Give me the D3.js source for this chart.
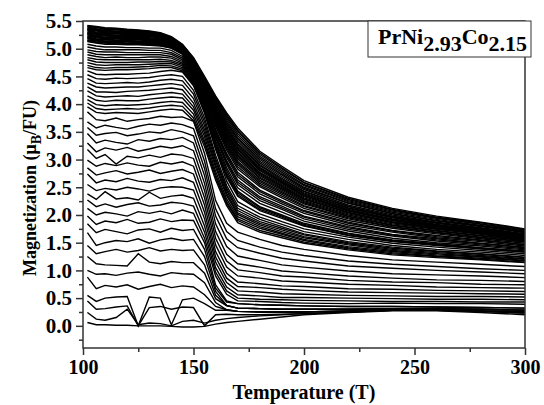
<!DOCTYPE html>
<html><head><meta charset="utf-8">
<script src="https://cdn.jsdelivr.net/npm/d3@7"></script>
<style>
body{margin:0;background:#fff}
svg{display:block}
text{font-family:"Liberation Serif","Times New Roman",serif;font-weight:bold;fill:#000}
</style>
</head><body>
<svg id="chart" width="544" height="405"></svg>
<script>
// Temperature grid (K)
const temperatures = [102,106,110,115,120,125,130,135,140,145,150,155,160,165,170,180,190,200,220,240,260,280,300];

// Magnetization curves (muB/FU), one per applied field, highest field first
const magnetization = [
[5.42,5.40,5.38,5.37,5.35,5.34,5.32,5.29,5.22,5.08,4.84,4.50,4.15,3.84,3.57,3.15,2.88,2.62,2.32,2.12,1.98,1.87,1.75],
[5.41,5.39,5.37,5.36,5.34,5.33,5.31,5.28,5.21,5.07,4.83,4.48,4.12,3.81,3.53,3.12,2.85,2.59,2.30,2.10,1.96,1.86,1.74],
[5.40,5.38,5.36,5.35,5.33,5.32,5.30,5.27,5.20,5.07,4.82,4.47,4.10,3.78,3.51,3.09,2.83,2.58,2.28,2.09,1.95,1.84,1.73],
[5.39,5.36,5.35,5.34,5.32,5.31,5.29,5.26,5.19,5.06,4.80,4.45,4.07,3.75,3.47,3.06,2.80,2.55,2.26,2.07,1.94,1.83,1.71],
[5.37,5.35,5.33,5.32,5.31,5.30,5.28,5.25,5.19,5.05,4.79,4.43,4.05,3.71,3.43,3.03,2.77,2.53,2.24,2.05,1.92,1.81,1.70],
[5.36,5.34,5.32,5.31,5.29,5.29,5.27,5.24,5.18,5.04,4.77,4.41,4.02,3.68,3.39,3.00,2.74,2.50,2.22,2.03,1.90,1.80,1.69],
[5.35,5.33,5.31,5.30,5.28,5.28,5.26,5.23,5.17,5.04,4.76,4.40,4.00,3.65,3.37,2.97,2.72,2.48,2.21,2.02,1.89,1.79,1.68],
[5.34,5.32,5.30,5.29,5.27,5.26,5.25,5.22,5.16,5.03,4.75,4.38,3.97,3.62,3.33,2.94,2.69,2.46,2.18,2.00,1.87,1.77,1.66],
[5.33,5.30,5.29,5.28,5.26,5.25,5.24,5.21,5.15,5.02,4.73,4.36,3.94,3.59,3.29,2.91,2.66,2.43,2.16,1.98,1.86,1.76,1.65],
[5.32,5.29,5.27,5.27,5.25,5.24,5.23,5.20,5.14,5.01,4.72,4.35,3.92,3.57,3.27,2.89,2.64,2.42,2.15,1.97,1.85,1.75,1.64],
[5.30,5.28,5.26,5.25,5.24,5.23,5.22,5.19,5.13,5.01,4.72,4.33,3.90,3.54,3.24,2.86,2.62,2.40,2.13,1.96,1.83,1.74,1.63],
[5.29,5.27,5.25,5.24,5.23,5.22,5.20,5.18,5.13,5.00,4.71,4.32,3.88,3.52,3.22,2.84,2.60,2.38,2.12,1.95,1.82,1.73,1.62],
[5.28,5.26,5.24,5.23,5.22,5.21,5.19,5.17,5.12,4.99,4.70,4.31,3.87,3.49,3.19,2.82,2.59,2.36,2.10,1.93,1.81,1.72,1.62],
[5.27,5.24,5.23,5.22,5.20,5.20,5.18,5.16,5.11,4.98,4.69,4.30,3.85,3.47,3.17,2.80,2.57,2.35,2.09,1.92,1.80,1.71,1.61],
[5.26,5.23,5.21,5.21,5.19,5.19,5.17,5.15,5.10,4.98,4.68,4.28,3.83,3.45,3.14,2.77,2.55,2.33,2.08,1.91,1.79,1.70,1.60],
[5.25,5.22,5.20,5.20,5.18,5.18,5.16,5.15,5.09,4.97,4.67,4.27,3.81,3.43,3.12,2.75,2.53,2.31,2.07,1.90,1.78,1.69,1.59],
[5.23,5.21,5.19,5.19,5.17,5.17,5.15,5.14,5.08,4.96,4.66,4.25,3.79,3.40,3.09,2.73,2.51,2.29,2.05,1.88,1.77,1.68,1.58],
[5.22,5.20,5.18,5.18,5.16,5.16,5.14,5.13,5.07,4.96,4.65,4.24,3.77,3.38,3.07,2.71,2.49,2.28,2.04,1.87,1.76,1.67,1.57],
[5.21,5.18,5.17,5.16,5.15,5.14,5.13,5.12,5.06,4.95,4.64,4.23,3.75,3.35,3.04,2.68,2.47,2.26,2.02,1.86,1.75,1.66,1.56],
[5.20,5.17,5.16,5.15,5.14,5.13,5.12,5.11,5.06,4.94,4.63,4.21,3.73,3.33,3.01,2.66,2.45,2.24,2.00,1.84,1.74,1.65,1.55],
[5.19,5.16,5.14,5.14,5.13,5.12,5.11,5.10,5.05,4.93,4.61,4.19,3.70,3.30,2.97,2.63,2.42,2.22,1.98,1.82,1.72,1.63,1.54],
[5.18,5.15,5.13,5.13,5.12,5.11,5.10,5.09,5.04,4.93,4.60,4.18,3.68,3.27,2.94,2.60,2.40,2.20,1.97,1.81,1.71,1.62,1.53],
[5.16,5.14,5.12,5.12,5.10,5.10,5.09,5.08,5.03,4.92,4.59,4.16,3.66,3.24,2.91,2.57,2.37,2.17,1.95,1.79,1.69,1.60,1.52],
[5.15,5.12,5.11,5.11,5.09,5.09,5.08,5.07,5.02,4.91,4.58,4.14,3.63,3.21,2.87,2.54,2.34,2.15,1.93,1.78,1.68,1.59,1.51],
[5.14,5.11,5.10,5.09,5.08,5.08,5.07,5.06,5.01,4.90,4.56,4.12,3.60,3.17,2.83,2.51,2.31,2.12,1.90,1.76,1.66,1.57,1.49],
[5.13,5.10,5.08,5.08,5.07,5.07,5.06,5.05,5.01,4.90,4.54,4.09,3.55,3.11,2.77,2.45,2.26,2.08,1.87,1.72,1.63,1.55,1.47],
[5.08,5.05,5.03,5.03,5.02,5.02,5.01,5.01,4.97,4.86,4.53,4.07,3.52,3.08,2.73,2.42,2.23,2.06,1.85,1.71,1.61,1.54,1.46],
[5.03,5.00,4.98,4.98,4.98,4.98,4.97,4.97,4.93,4.83,4.51,4.05,3.49,3.04,2.69,2.38,2.20,2.03,1.82,1.69,1.59,1.52,1.44],
[4.98,4.95,4.94,4.94,4.93,4.93,4.93,4.93,4.90,4.80,4.49,4.02,3.45,2.98,2.63,2.33,2.16,1.98,1.79,1.65,1.57,1.49,1.42],
[4.94,4.90,4.89,4.89,4.89,4.89,4.89,4.89,4.86,4.77,4.48,4.00,3.42,2.95,2.59,2.30,2.13,1.96,1.77,1.64,1.55,1.48,1.41],
[4.89,4.86,4.84,4.85,4.84,4.84,4.85,4.85,4.83,4.74,4.46,3.98,3.39,2.91,2.55,2.26,2.10,1.93,1.74,1.62,1.53,1.46,1.39],
[4.84,4.81,4.80,4.80,4.80,4.80,4.80,4.81,4.79,4.72,4.43,3.95,3.34,2.85,2.49,2.21,2.05,1.89,1.71,1.58,1.50,1.44,1.37],
[4.80,4.76,4.75,4.75,4.75,4.76,4.76,4.77,4.76,4.69,4.41,3.92,3.30,2.80,2.43,2.15,2.00,1.85,1.67,1.55,1.48,1.41,1.35],
[4.75,4.71,4.70,4.71,4.71,4.71,4.72,4.73,4.73,4.66,4.39,3.89,3.26,2.75,2.40,2.13,1.98,1.83,1.66,1.54,1.47,1.40,1.34],
[4.70,4.66,4.65,4.66,4.66,4.67,4.68,4.70,4.69,4.63,4.37,3.87,3.23,2.71,2.37,2.10,1.96,1.81,1.64,1.53,1.46,1.39,1.33],
[4.66,4.62,4.61,4.62,4.62,4.63,4.64,4.66,4.66,4.60,4.36,3.85,3.20,2.68,2.34,2.08,1.94,1.80,1.63,1.52,1.45,1.39,1.33],
[4.60,4.54,4.53,4.54,4.54,4.55,4.56,4.59,4.61,4.58,4.33,3.84,3.19,2.61,2.24,2.02,1.88,1.75,1.60,1.49,1.42,1.36,1.30],
[4.53,4.46,4.45,4.47,4.46,4.47,4.48,4.51,4.53,4.50,4.25,3.75,3.08,2.53,2.17,1.96,1.83,1.70,1.56,1.45,1.38,1.33,1.27],
[4.46,4.38,4.37,4.38,4.39,4.38,4.40,4.43,4.45,4.42,4.18,3.68,3.02,2.48,2.12,1.92,1.79,1.66,1.52,1.42,1.35,1.30,1.24],
[4.38,4.31,4.29,4.30,4.31,4.31,4.33,4.35,4.37,4.34,4.10,3.61,2.97,2.44,2.08,1.88,1.76,1.64,1.50,1.40,1.34,1.29,1.23],
[4.31,4.22,4.22,4.21,4.23,4.24,4.25,4.27,4.29,4.26,4.02,3.54,2.91,2.39,2.04,1.85,1.73,1.61,1.48,1.38,1.32,1.27,1.21],
[4.24,4.15,4.13,4.14,4.15,4.14,4.17,4.19,4.21,4.18,3.95,3.48,2.86,2.35,2.01,1.82,1.70,1.59,1.46,1.36,1.30,1.25,1.20],
[4.15,4.07,4.05,4.07,4.06,4.06,4.09,4.11,4.13,4.11,3.89,3.41,2.79,2.29,1.97,1.79,1.67,1.56,1.43,1.34,1.28,1.24,1.18],
[4.08,3.99,3.97,3.99,3.98,3.99,4.00,4.03,4.05,4.03,3.82,3.34,2.73,2.24,1.93,1.76,1.65,1.54,1.41,1.32,1.26,1.22,1.17],
[4.02,3.92,3.90,3.91,3.92,3.91,3.93,3.96,3.98,3.96,3.75,3.29,2.68,2.21,1.90,1.72,1.62,1.51,1.39,1.30,1.25,1.20,1.15],
[3.95,3.85,3.83,3.85,3.84,3.83,3.86,3.89,3.91,3.89,3.70,3.23,2.63,2.17,1.86,1.69,1.59,1.49,1.37,1.28,1.23,1.19,1.14],
[3.86,3.72,3.70,3.75,3.69,3.72,3.74,3.78,3.76,3.77,3.69,3.11,2.26,1.85,1.69,1.56,1.45,1.38,1.27,1.19,1.15,1.11,1.07],
[3.68,3.57,3.62,3.58,3.55,3.60,3.64,3.62,3.66,3.63,3.56,2.97,2.11,1.70,1.54,1.42,1.33,1.27,1.17,1.11,1.07,1.03,1.00],
[3.58,3.44,3.47,3.49,3.43,3.46,3.50,3.48,3.54,3.50,3.43,2.84,1.98,1.57,1.41,1.31,1.22,1.17,1.08,1.04,1.00,0.97,0.94],
[3.47,3.30,3.35,3.31,3.28,3.36,3.33,3.38,3.36,3.40,3.30,2.71,1.84,1.43,1.26,1.18,1.10,1.06,0.99,0.94,0.92,0.90,0.87],
[3.30,3.14,3.21,3.17,3.22,3.15,3.19,3.24,3.21,3.25,3.16,2.57,1.70,1.29,1.12,1.06,0.99,0.96,0.90,0.86,0.83,0.82,0.80],
[3.18,3.02,3.09,2.92,3.06,3.03,3.08,3.04,3.10,3.08,3.02,2.44,1.58,1.17,1.01,0.96,0.90,0.88,0.82,0.79,0.78,0.75,0.74],
[2.99,2.88,2.93,2.89,2.94,2.90,2.88,2.95,2.92,2.96,2.88,2.31,1.46,1.06,0.90,0.86,0.81,0.79,0.75,0.73,0.70,0.69,0.68],
[2.85,2.72,2.76,2.80,2.74,2.77,2.81,2.75,2.79,2.82,2.74,2.18,1.34,0.95,0.79,0.76,0.72,0.71,0.67,0.66,0.64,0.63,0.62],
[2.74,2.58,2.63,2.60,2.66,2.61,2.59,2.64,2.62,2.67,2.59,2.05,1.24,0.86,0.71,0.69,0.66,0.64,0.61,0.60,0.59,0.58,0.57],
[2.55,2.44,2.48,2.45,2.50,2.47,2.43,2.49,2.51,2.50,2.45,1.93,1.15,0.78,0.63,0.61,0.58,0.57,0.55,0.54,0.53,0.53,0.52],
[2.38,2.28,2.42,2.29,2.31,2.27,2.41,2.30,2.34,2.36,2.30,1.80,1.05,0.70,0.56,0.54,0.51,0.51,0.50,0.49,0.48,0.48,0.47],
[2.27,2.15,2.20,2.14,2.19,2.22,2.16,2.18,2.23,2.21,2.16,1.69,0.97,0.63,0.50,0.48,0.47,0.46,0.45,0.44,0.44,0.43,0.43],
[2.12,2.00,2.05,2.02,1.98,2.06,2.03,2.07,2.02,2.09,2.03,1.58,0.90,0.57,0.45,0.44,0.42,0.41,0.40,0.41,0.40,0.40,0.39],
[1.98,1.83,1.89,1.86,1.92,1.85,1.87,1.93,1.88,1.91,1.90,1.50,0.74,0.45,0.40,0.38,0.37,0.36,0.35,0.35,0.34,0.33,0.32],
[1.84,1.68,1.74,1.70,1.66,1.73,1.75,1.69,1.76,1.72,1.74,1.38,0.68,0.43,0.40,0.38,0.37,0.36,0.35,0.35,0.34,0.33,0.32],
[1.68,1.45,1.50,1.54,1.52,1.57,1.49,1.55,1.58,1.54,1.56,1.25,0.62,0.37,0.32,0.31,0.30,0.30,0.30,0.31,0.31,0.30,0.28],
[1.45,1.30,1.34,1.38,1.33,1.36,1.41,1.35,1.38,1.36,1.37,1.10,0.55,0.37,0.32,0.31,0.30,0.30,0.30,0.31,0.31,0.30,0.28],
[1.25,1.12,1.10,1.09,1.08,1.30,1.15,1.12,1.16,1.14,1.14,0.95,0.49,0.36,0.32,0.31,0.30,0.30,0.30,0.31,0.31,0.30,0.28],
[1.00,0.93,0.94,0.91,0.95,0.97,0.93,0.90,0.96,0.94,0.93,0.78,0.42,0.29,0.26,0.25,0.25,0.25,0.27,0.29,0.29,0.27,0.25],
[0.88,0.67,0.73,0.70,0.74,0.66,0.71,0.75,0.69,0.72,0.70,0.56,0.35,0.29,0.26,0.25,0.25,0.25,0.27,0.29,0.29,0.27,0.25],
[0.55,0.44,0.50,0.52,0.53,0.00,0.52,0.50,0.02,0.47,0.50,0.40,0.28,0.28,0.26,0.25,0.25,0.25,0.27,0.29,0.29,0.27,0.25],
[0.45,0.30,0.31,0.34,0.36,0.00,0.33,0.35,0.30,0.34,0.33,0.00,0.20,0.21,0.20,0.20,0.21,0.22,0.25,0.28,0.28,0.26,0.23],
[0.24,0.12,0.10,0.15,0.30,0.02,0.05,0.04,0.00,0.08,0.10,0.05,0.10,0.13,0.15,0.18,0.20,0.22,0.25,0.28,0.28,0.26,0.23],
[0.06,0.02,0.02,0.01,0.01,0.00,0.00,0.00,-0.01,-0.02,-0.02,-0.01,0.03,0.06,0.08,0.12,0.16,0.20,0.24,0.27,0.27,0.24,0.20]
];

const xTicks = [100,150,200,250,300];
const xMinorTicks = [125,175,225,275];
const yTicks = [0,0.5,1,1.5,2,2.5,3,3.5,4,4.5,5,5.5];
const yMinorTicks = [-0.25,0.25,0.75,1.25,1.75,2.25,2.75,3.25,3.75,4.25,4.75,5.25];
const xTitle = "Temperature (T)";
const yTitleParts = ["Magnetization (\u03bc", "B", "/FU)"];
const legendParts = ["PrNi", "2.93", "Co", "2.15"];

const svg = d3.select("#chart");
const pL = 83, pR = 525, pT = 21, pB = 348;
const x = d3.scaleLinear().domain([100,300]).range([pL,pR]);
const y = d3.scaleLinear().domain([-0.4,5.5]).range([pB,pT]);

svg.append("defs").append("clipPath").attr("id","clip")
  .append("rect").attr("x",pL).attr("y",pT).attr("width",pR-pL).attr("height",pB-pT);

const line = d3.line().x((d,i)=>x(temperatures[i])).y(d=>y(d));
svg.append("g").attr("clip-path","url(#clip)")
  .selectAll("path").data(magnetization).join("path")
  .attr("d",line).attr("fill","none").attr("stroke","#000").attr("stroke-width",1.4)
  .attr("stroke-linejoin","miter");

const axisColor = "#333";
svg.append("rect").attr("x",pL).attr("y",pT).attr("width",pR-pL).attr("height",pB-pT)
  .attr("fill","none").attr("stroke",axisColor).attr("stroke-width",1.5);

function styleAxis(size){
  return g => {
    g.select(".domain").remove();
    g.selectAll("line").attr("stroke",axisColor).attr("stroke-width",1.5);
    g.selectAll("text").attr("font-size",size).attr("font-family",'"Liberation Serif",serif').attr("font-weight","bold").attr("fill","#000");
  };
}
svg.append("g").attr("transform",`translate(0,${pB})`)
  .call(d3.axisBottom(x).tickValues(xTicks).tickSize(7).tickPadding(5).tickFormat(d3.format("d")))
  .call(styleAxis("20px"));
svg.append("g").attr("transform",`translate(0,${pB})`)
  .call(d3.axisBottom(x).tickValues(xMinorTicks).tickSize(4).tickFormat(""))
  .call(styleAxis("20px"));
svg.append("g").attr("transform",`translate(${pL},0)`)
  .call(d3.axisLeft(y).tickValues(yTicks).tickSize(7).tickPadding(4).tickFormat(d3.format(".1f")))
  .call(styleAxis("21px"));
svg.append("g").attr("transform",`translate(${pL},0)`)
  .call(d3.axisLeft(y).tickValues(yMinorTicks).tickSize(4).tickFormat(""))
  .call(styleAxis("21px"));

svg.append("text").attr("x",(pL+pR)/2).attr("y",399).attr("text-anchor","middle")
  .attr("font-size","20px").text(xTitle);

const yt = svg.append("text").attr("transform",`translate(36,188) rotate(-90)`)
  .attr("text-anchor","middle").attr("font-size","18px");
yt.append("tspan").text(yTitleParts[0]);
yt.append("tspan").attr("dy",5).attr("font-size","14px").text(yTitleParts[1]);
yt.append("tspan").attr("dy",-5).text(yTitleParts[2]);

svg.append("rect").attr("x",368).attr("y",21).attr("width",163).attr("height",36)
  .attr("fill","#fff").attr("stroke",axisColor).attr("stroke-width",1);
const lt = svg.append("text").attr("x",378).attr("y",44).attr("text-anchor","start").attr("font-size","22px");
lt.append("tspan").text(legendParts[0]);
lt.append("tspan").attr("dy",7).text(legendParts[1]);
lt.append("tspan").attr("dy",-7).text(legendParts[2]);
lt.append("tspan").attr("dy",7).text(legendParts[3]);
</script>
</body></html>
